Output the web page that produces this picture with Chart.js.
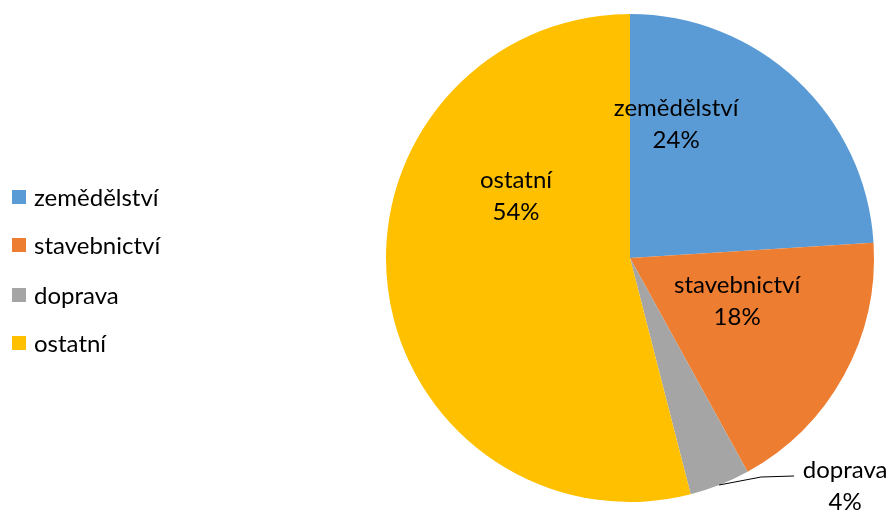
<!DOCTYPE html>
<html>
<head>
<meta charset="utf-8">
<script src="https://cdn.jsdelivr.net/npm/chart.js@4/dist/chart.umd.min.js"></script>
<style>
  html, body { margin: 0; padding: 0; background: #fff; }
  #wrap { width: 892px; height: 516px; }
</style>
</head>
<body>
<div id="wrap"><canvas id="myChart" width="892" height="516"></canvas></div>
<script>
const categories = ['zemědělství', 'stavebnictví', 'doprava', 'ostatní'];
const shares = [24, 18, 4, 54];
const colors = ['#5B9BD5', '#ED7D31', '#A5A5A5', '#FFC000'];

const FONT = 'Lato, "Open Sans", sans-serif';

// legend on the left, drawn by hand
const leftLegend = {
    id: 'leftLegend',
    afterDraw(chart) {
        const c = chart.ctx;
        c.save();
        c.font = '24px ' + FONT;
        c.textBaseline = 'middle';
        c.textAlign = 'left';
        const ys = [197, 245, 295, 343];
        categories.forEach((name, i) => {
            c.fillStyle = colors[i];
            c.fillRect(12, ys[i] - 7, 14, 14);
            c.fillStyle = '#000';
            c.fillText(name, 34, ys[i] + 1);
        });
        c.restore();
    }
};

// label offsets as fractions of the radius (Excel "best fit" placement)
const labelPos = [[0.189, -0.549], [0.439, 0.176], null, [-0.467, -0.254]];

// slice labels (name + percent)
const sliceLabels = {
    id: 'sliceLabels',
    afterDatasetsDraw(chart) {
        const c = chart.ctx;
        const meta = chart.getDatasetMeta(0);
        const total = shares.reduce((a, b) => a + b, 0);
        c.save();
        c.font = '24px ' + FONT;
        c.fillStyle = '#000';
        c.textAlign = 'center';
        c.textBaseline = 'middle';
        meta.data.forEach((arc, i) => {
            const pct = Math.round(shares[i] / total * 100) + '%';
            const mid = (arc.startAngle + arc.endAngle) / 2;
            const r = arc.outerRadius;
            if (!labelPos[i]) {
                // small slice: label outside with leader line
                const ex = arc.x + Math.cos(mid) * (r - 2);
                const ey = arc.y + Math.sin(mid) * (r - 2);
                c.strokeStyle = '#000';
                c.lineWidth = 1;
                c.beginPath();
                c.moveTo(ex, ey + 2);
                c.lineTo(ex + 42, ey - 6);
                c.lineTo(ex + 75, ey - 7);
                c.stroke();
                c.fillText(categories[i], ex + 126, ey - 13);
                c.fillText(pct, ex + 126, ey + 19);
            } else {
                const x = arc.x + labelPos[i][0] * r;
                const y = arc.y + labelPos[i][1] * r;
                c.fillText(categories[i], x, y - 16);
                c.fillText(pct, x, y + 16);
            }
        });
        c.restore();
    }
};

const ctx = document.getElementById('myChart').getContext('2d');
const myChart = new Chart(ctx, {
    type: 'pie',
    data: {
        labels: categories,
        datasets: [{
            data: shares,
            backgroundColor: colors,
            borderWidth: 0
        }]
    },
    options: {
        responsive: false,
        animation: false,
        layout: { padding: { left: 376, right: 8, top: 14, bottom: 14 } },
        plugins: {
            legend: { display: false },
            tooltip: { enabled: false }
        }
    },
    plugins: [leftLegend, sliceLabels]
});
</script>
</body>
</html>
